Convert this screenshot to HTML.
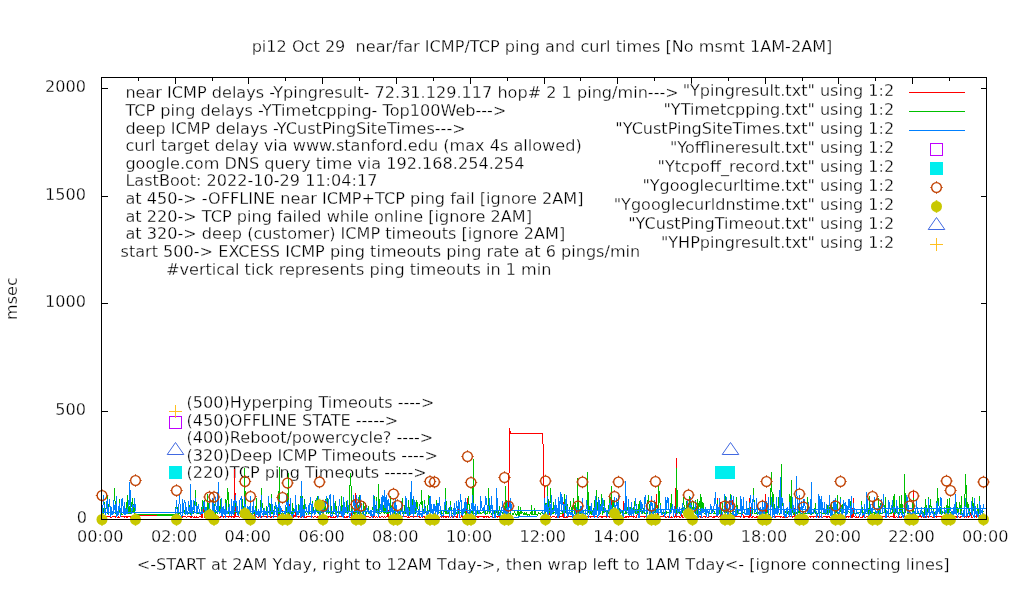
<!DOCTYPE html>
<html lang="en"><head><meta charset="utf-8"><title>pi12 ping and curl times</title>
<style>
html,body{margin:0;padding:0;background:#fff;}
body{width:1020px;height:600px;overflow:hidden;}
svg{display:block;}
text{font-family:"DejaVu Sans","Liberation Sans",sans-serif;font-size:16.1px;fill:#000;white-space:pre;stroke:#fff;stroke-width:0.3px;paint-order:fill stroke;}
.e{text-anchor:end}.m{text-anchor:middle}
.ln{fill:none;stroke-width:1;stroke-linejoin:miter;stroke-linecap:butt}
</style></head><body>
<svg width="1020" height="600" viewBox="0 0 1020 600">
<rect width="1020" height="600" fill="#fff"/>
<path d="M101.5 519.5v-6M101.5 77.5v6M138.5 519.5v-3M138.5 77.5v3M175.5 519.5v-6M175.5 77.5v6M212.5 519.5v-3M212.5 77.5v3M248.5 519.5v-6M248.5 77.5v6M285.5 519.5v-3M285.5 77.5v3M322.5 519.5v-6M322.5 77.5v6M359.5 519.5v-3M359.5 77.5v3M396.5 519.5v-6M396.5 77.5v6M433.5 519.5v-3M433.5 77.5v3M470.5 519.5v-6M470.5 77.5v6M507.5 519.5v-3M507.5 77.5v3M544.5 519.5v-6M544.5 77.5v6M580.5 519.5v-3M580.5 77.5v3M617.5 519.5v-6M617.5 77.5v6M654.5 519.5v-3M654.5 77.5v3M691.5 519.5v-6M691.5 77.5v6M728.5 519.5v-3M728.5 77.5v3M765.5 519.5v-6M765.5 77.5v6M802.5 519.5v-3M802.5 77.5v3M838.5 519.5v-6M838.5 77.5v6M875.5 519.5v-3M875.5 77.5v3M912.5 519.5v-6M912.5 77.5v6M949.5 519.5v-3M949.5 77.5v3M986.5 519.5v-6M986.5 77.5v6M101.5 519.5h6M986.5 519.5h-6M101.5 411.5h6M986.5 411.5h-6M101.5 303.5h6M986.5 303.5h-6M101.5 196.5h6M986.5 196.5h-6M101.5 88.5h6M986.5 88.5h-6" stroke="#000" stroke-width="1" fill="none" shape-rendering="crispEdges"/>
<text class="e" x="87" y="523.3">0</text>
<text class="e" x="86" y="415.3">500</text>
<text class="e" x="86" y="307.3">1000</text>
<text class="e" x="86" y="200.3">1500</text>
<text class="e" x="86" y="92.3">2000</text>
<text class="m" x="100.3" y="541.7">00:00</text>
<text class="m" x="174.1" y="541.7">02:00</text>
<text class="m" x="247.8" y="541.7">04:00</text>
<text class="m" x="321.6" y="541.7">06:00</text>
<text class="m" x="395.3" y="541.7">08:00</text>
<text class="m" x="469.1" y="541.7">10:00</text>
<text class="m" x="542.8" y="541.7">12:00</text>
<text class="m" x="616.5" y="541.7">14:00</text>
<text class="m" x="690.3" y="541.7">16:00</text>
<text class="m" x="764.0" y="541.7">18:00</text>
<text class="m" x="837.8" y="541.7">20:00</text>
<text class="m" x="911.5" y="541.7">22:00</text>
<text class="m" x="985.3" y="541.7">00:00</text>
<text class="m" transform="translate(16.5,298.6) rotate(-90)">msec</text>
<text class="m" x="542" y="51.8">pi12 Oct 29  near/far ICMP/TCP ping and curl times [No msmt 1AM-2AM]</text>
<text class="m" x="543.2" y="570" style="font-size:16.13px">&lt;-START at 2AM Yday, right to 12AM Tday-&gt;, then wrap left to 1AM Tday&lt;- [ignore connecting lines]</text>
<text x="125.4" y="98.2">near ICMP delays -Ypingresult- 72.31.129.117 hop# 2 1 ping/min---&gt;</text>
<text x="125.4" y="115.8">TCP ping delays -YTimetcpping- Top100Web---&gt;</text>
<text x="125.4" y="133.5">deep ICMP delays -YCustPingSiteTimes---&gt;</text>
<text x="125.4" y="151.2">curl target delay via www.stanford.edu (max 4s allowed)</text>
<text x="125.4" y="168.8">google.com DNS query time via 192.168.254.254</text>
<text x="125.4" y="186.4">LastBoot: 2022-10-29 11:04:17</text>
<text x="125.4" y="204.1">at 450-&gt; -OFFLINE near ICMP+TCP ping fail [ignore 2AM]</text>
<text x="125.4" y="221.8">at 220-&gt; TCP ping failed while online [ignore 2AM]</text>
<text x="125.4" y="239.4">at 320-&gt; deep (customer) ICMP timeouts [ignore 2AM]</text>
<text x="120.5" y="257.1">start 500-&gt; EXCESS ICMP ping timeouts ping rate at 6 pings/min</text>
<text x="166" y="274.7">#vertical tick represents ping timeouts in 1 min</text>
<text x="186.6" y="407.8">(500)Hyperping Timeouts ----&gt;</text>
<text x="186.6" y="425.5">(450)OFFLINE STATE -----&gt;</text>
<text x="186.6" y="443.1">(400)Reboot/powercycle? ----&gt;</text>
<text x="186.6" y="460.8">(320)Deep ICMP Timeouts ----&gt;</text>
<text x="186.6" y="478.4">(220)TCP ping Timeouts -----&gt;</text>
<text class="e" x="894.2" y="95.8" style="font-size:16.06px">"Ypingresult.txt" using 1:2</text>
<text class="e" x="894.2" y="114.8" style="font-size:16.06px">"YTimetcpping.txt" using 1:2</text>
<text class="e" x="894.2" y="133.8" style="font-size:16.06px">"YCustPingSiteTimes.txt" using 1:2</text>
<text class="e" x="894.2" y="152.8" style="font-size:16.06px">"Yofflineresult.txt" using 1:2</text>
<text class="e" x="894.2" y="171.8" style="font-size:16.06px">"Ytcpoff_record.txt" using 1:2</text>
<text class="e" x="894.2" y="190.8" style="font-size:16.06px">"Ygooglecurltime.txt" using 1:2</text>
<text class="e" x="894.2" y="209.8" style="font-size:16.06px">"Ygooglecurldnstime.txt" using 1:2</text>
<text class="e" x="894.2" y="228.8" style="font-size:16.06px">"YCustPingTimeout.txt" using 1:2</text>
<text class="e" x="894.2" y="247.8" style="font-size:16.06px">"YHPpingresult.txt" using 1:2</text>
<g>
<path d="M102.5 516V518M103.5 516V517M104.5 516V517M105.5 516V518M106.5 516V517M107.5 516V517M108.5 516V517M109.5 516V517M110.5 516V518M111.5 517V518M112.5 516V517M113.5 516V517M114.5 516V517M115.5 516V518M116.5 516V517M117.5 517V518M118.5 516V518M119.5 517V518M120.5 516V517M121.5 516V517M122.5 516V517M123.5 516V517M124.5 516V518M125.5 516V517M126.5 516V518M127.5 516V518M128.5 516V517M129.5 516V517M130.5 516V518M131.5 516V517M132.5 516V518M133.5 516V517M134.5 516V517M135.5 515V516M135.5 517V518M136.5 515V516M137.5 515V516M138.5 515V516M139.5 515V516M140.5 515V516M141.5 515V516M142.5 515V516M143.5 515V516M144.5 515V516M145.5 515V516M146.5 515V516M147.5 515V516M148.5 515V516M149.5 515V516M150.5 515V516M151.5 515V516M152.5 515V516M153.5 515V516M154.5 515V516M155.5 515V516M156.5 515V516M157.5 515V516M175.5 516V517M176.5 517V518M177.5 516V518M178.5 516V517M179.5 517V518M180.5 516V517M181.5 516V517M182.5 516V518M183.5 516V517M184.5 516V517M185.5 516V517M186.5 517V518M187.5 516V517M188.5 516V517M189.5 516V517M190.5 516V518M191.5 516V518M192.5 516V517M193.5 517V518M194.5 516V518M195.5 517V518M196.5 516V518M197.5 517V518M198.5 517V518M199.5 516V517M200.5 516V517M201.5 514V518M202.5 512V518M203.5 506V512M204.5 511V518M205.5 516V517M206.5 516V517M207.5 516V518M208.5 516V517M209.5 516V518M210.5 517V518M211.5 516V517M212.5 517V518M213.5 514V517M214.5 510V514M215.5 513V517M216.5 516V517M217.5 516V517M218.5 516V517M219.5 517V518M220.5 516V518M221.5 505V517M222.5 511V517M223.5 516V518M224.5 516V517M225.5 516V518M226.5 516V517M227.5 516V517M228.5 516V518M229.5 516V517M230.5 516V517M231.5 516V518M232.5 516V517M233.5 516V518M234.5 469V518M235.5 493V517M236.5 516V517M237.5 516V517M238.5 516V517M239.5 517V518M240.5 516V517M241.5 516V517M242.5 517V518M243.5 516V517M244.5 516V517M245.5 516V518M246.5 514V518M247.5 509V518M248.5 516V517M249.5 516V517M250.5 516V518M251.5 516V517M252.5 516V518M253.5 516V517M254.5 514V517M255.5 510V517M256.5 516V517M257.5 517V518M258.5 516V518M259.5 516V517M260.5 516V517M261.5 516V518M262.5 516V517M263.5 516V517M264.5 516V517M265.5 516V517M266.5 516V518M267.5 517V518M268.5 516V517M269.5 516V517M270.5 517V518M271.5 516V518M272.5 516V517M273.5 517V518M274.5 516V517M275.5 516V517M276.5 516V517M277.5 516V518M278.5 514V518M279.5 510V517M280.5 516V517M281.5 514V517M282.5 510V518M283.5 517V518M284.5 516V517M285.5 516V518M286.5 517V518M287.5 516V518M288.5 492V518M289.5 504V517M290.5 516V517M291.5 516V517M292.5 516V518M293.5 515V518M294.5 515V517M295.5 512V517M296.5 516V517M297.5 516V517M298.5 516V518M299.5 516V517M300.5 516V518M301.5 516V518M302.5 516V517M303.5 516V517M304.5 516V518M305.5 517V518M306.5 516V518M307.5 516V517M308.5 516V517M309.5 516V517M310.5 516V517M311.5 516V517M312.5 516V517M313.5 517V518M314.5 516V517M315.5 516V517M316.5 517V518M317.5 516V518M318.5 516V517M319.5 515V517M320.5 516V517M321.5 516V517M322.5 500V517M323.5 509V518M324.5 515V516M325.5 516V517M326.5 516V517M327.5 516V517M328.5 516V518M329.5 516V517M330.5 516V518M331.5 516V518M332.5 517V518M333.5 516V518M334.5 517V518M335.5 516V518M336.5 516V517M337.5 517V518M338.5 516V517M339.5 516V517M340.5 516V517M341.5 516V517M342.5 516V517M343.5 516V517M344.5 516V518M345.5 517V518M346.5 516V518M347.5 516V518M348.5 516V517M349.5 516V517M350.5 517V518M351.5 512V517M352.5 515V518M353.5 516V517M354.5 505V517M355.5 493V517M356.5 516V517M357.5 516V517M358.5 516V517M359.5 516V518M360.5 517V518M361.5 517V518M362.5 517V518M363.5 516V518M364.5 516V517M365.5 516V518M366.5 516V517M367.5 516V517M368.5 516V517M369.5 517V518M370.5 517V518M371.5 516V517M372.5 516V517M373.5 516V518M374.5 516V517M375.5 517V518M376.5 516V517M377.5 517V518M378.5 516V517M379.5 516V518M380.5 517V518M381.5 516V517M382.5 516V517M383.5 517V518M384.5 516V517M385.5 517V518M386.5 516V517M387.5 502V517M388.5 510V518M389.5 516V517M390.5 517V518M391.5 517V518M392.5 516V517M393.5 516V517M394.5 516V518M395.5 516V517M396.5 516V517M397.5 516V517M398.5 514V517M399.5 515V517M400.5 515V517M401.5 517V518M402.5 516V517M403.5 516V517M404.5 516V517M405.5 516V517M406.5 516V517M407.5 517V518M408.5 516V518M409.5 517V518M410.5 516V517M411.5 516V517M412.5 516V517M413.5 516V518M414.5 516V517M415.5 516V517M416.5 516V517M417.5 516V517M418.5 516V517M419.5 516V518M420.5 517V518M421.5 516V517M422.5 516V518M423.5 516V517M424.5 516V518M425.5 517V518M426.5 516V518M427.5 516V517M428.5 517V518M429.5 516V517M430.5 516V518M431.5 516V517M432.5 516V517M433.5 516V517M434.5 516V517M435.5 517V518M436.5 516V517M437.5 514V517M438.5 516V517M439.5 517V518M440.5 516V517M441.5 516V518M442.5 516V517M443.5 516V518M444.5 516V517M445.5 516V518M446.5 516V518M447.5 516V517M448.5 516V518M449.5 516V517M450.5 517V518M451.5 516V517M452.5 517V518M453.5 516V518M454.5 516V517M455.5 516V517M456.5 516V518M457.5 511V518M458.5 504V511M459.5 510V517M460.5 517V518M461.5 511V517M462.5 514V518M463.5 516V517M464.5 516V517M465.5 516V518M466.5 508V517M467.5 498V517M468.5 516V517M469.5 516V518M470.5 517V518M471.5 516V517M472.5 516V517M473.5 516V518M474.5 516V517M475.5 516V517M476.5 516V517M477.5 516V518M478.5 516V518M479.5 516V517M480.5 516V517M481.5 516V517M482.5 516V517M483.5 516V518M484.5 516V518M485.5 516V517M486.5 516V518M487.5 516V517M488.5 516V518M489.5 517V518M490.5 516V517M491.5 516V517M492.5 516V517M493.5 517V518M494.5 516V518M495.5 516V517M496.5 516V517M497.5 516V518M498.5 516V517M499.5 516V518M500.5 516V518M501.5 516V517M502.5 516V517M503.5 516V517M504.5 516V517M505.5 516V517M506.5 516V517M507.5 516V517M508.5 473V518M509.5 428V473M510.5 431V434M511.5 433V434M512.5 433V434M513.5 433V434M514.5 433V434M515.5 433V434M516.5 433V434M517.5 433V434M518.5 433V434M519.5 433V434M520.5 433V434M521.5 433V434M522.5 433V434M523.5 433V434M524.5 433V434M525.5 433V434M526.5 433V434M527.5 433V434M528.5 433V434M529.5 433V434M530.5 433V434M531.5 433V434M532.5 433V434M533.5 433V434M534.5 433V434M535.5 433V434M536.5 433V434M537.5 433V434M538.5 433V434M539.5 433V434M540.5 433V434M541.5 433V434M542.5 433V444M543.5 444V486M544.5 486V518M545.5 505V517M546.5 516V517M547.5 516V518M548.5 515V518M549.5 512V515M550.5 514V517M551.5 517V518M552.5 516V517M553.5 516V517M554.5 516V517M555.5 517V518M556.5 516V518M557.5 517V518M558.5 516V517M559.5 516V518M560.5 516V517M561.5 516V517M562.5 510V517M563.5 502V518M564.5 516V518M565.5 517V518M566.5 516V518M567.5 516V518M568.5 516V517M569.5 516V517M570.5 516V517M571.5 516V517M572.5 516V517M573.5 516V517M574.5 516V517M575.5 516V518M576.5 508V517M577.5 498V518M578.5 516V517M579.5 516V518M580.5 516V518M581.5 517V518M582.5 516V517M583.5 516V517M584.5 516V517M585.5 516V518M586.5 517V518M587.5 516V517M588.5 516V517M589.5 516V517M590.5 516V518M591.5 516V517M592.5 516V517M593.5 516V517M594.5 516V517M595.5 516V517M596.5 516V517M597.5 516V517M598.5 517V518M599.5 516V517M600.5 516V517M601.5 516V518M602.5 516V518M603.5 516V517M604.5 516V517M605.5 516V517M606.5 516V518M607.5 516V517M608.5 516V517M609.5 516V518M610.5 509V517M611.5 500V509M612.5 508V517M613.5 517V518M614.5 516V517M615.5 516V517M616.5 517V518M617.5 516V518M618.5 516V517M619.5 516V517M620.5 516V518M621.5 516V517M622.5 510V518M623.5 501V518M624.5 517V518M625.5 516V518M626.5 516V518M627.5 516V517M628.5 516V518M629.5 516V517M630.5 516V517M631.5 516V517M632.5 516V517M633.5 516V518M634.5 516V517M635.5 517V518M636.5 515V518M637.5 511V515M638.5 514V518M639.5 516V518M640.5 516V517M641.5 516V517M642.5 516V517M643.5 516V517M644.5 516V518M645.5 516V517M646.5 516V518M647.5 516V517M648.5 517V518M649.5 516V518M650.5 516V518M651.5 517V518M652.5 516V517M653.5 516V517M654.5 516V517M655.5 506V518M656.5 494V506M657.5 505V518M658.5 516V517M659.5 516V517M660.5 516V517M661.5 516V517M662.5 516V517M663.5 515V517M664.5 516V517M665.5 516V518M666.5 517V518M667.5 516V517M668.5 516V518M669.5 516V518M670.5 517V518M671.5 516V518M672.5 517V518M673.5 516V517M674.5 516V518M675.5 488V517M676.5 458V518M677.5 516V517M678.5 516V517M679.5 516V518M680.5 517V518M681.5 513V517M682.5 515V518M683.5 517V518M684.5 516V517M685.5 517V518M686.5 517V518M687.5 516V517M688.5 516V517M689.5 516V517M690.5 517V518M691.5 516V517M692.5 516V518M693.5 516V517M694.5 516V517M695.5 516V517M696.5 516V517M697.5 516V518M698.5 516V517M699.5 516V517M700.5 516V518M701.5 516V517M702.5 517V518M703.5 516V517M704.5 516V517M705.5 516V518M706.5 516V517M707.5 517V518M708.5 516V518M709.5 516V517M710.5 516V517M711.5 516V517M712.5 517V518M713.5 516V518M714.5 516V518M715.5 516V517M716.5 508V517M717.5 498V517M718.5 517V518M719.5 516V517M720.5 502V517M721.5 510V518M722.5 517V518M723.5 517V518M724.5 516V517M725.5 516V517M726.5 517V518M727.5 515V517M728.5 516V518M729.5 516V517M730.5 516V518M731.5 515V518M732.5 500V515M733.5 508V517M734.5 517V518M735.5 516V517M736.5 516V517M737.5 516V517M738.5 516V517M739.5 516V517M740.5 516V518M741.5 515V517M742.5 512V515M743.5 515V518M744.5 516V518M745.5 516V517M746.5 516V517M747.5 516V517M748.5 516V518M749.5 498V518M750.5 507V517M751.5 517V518M752.5 516V518M753.5 516V517M754.5 517V518M755.5 517V518M756.5 516V518M757.5 516V518M758.5 516V517M759.5 516V517M760.5 516V518M761.5 516V517M762.5 516V517M763.5 517V518M764.5 516V517M765.5 494V517M766.5 504V515M767.5 515V518M768.5 516V518M769.5 516V517M770.5 516V518M771.5 517V518M772.5 516V517M773.5 516V517M774.5 517V518M775.5 516V518M776.5 516V517M777.5 516V517M778.5 516V517M779.5 516V517M780.5 516V518M781.5 516V517M782.5 517V518M783.5 516V518M784.5 516V518M785.5 516V517M786.5 516V518M787.5 517V518M788.5 516V517M789.5 515V517M790.5 516V517M791.5 516V517M792.5 516V518M793.5 516V517M794.5 508V517M795.5 511V517M796.5 517V518M797.5 516V517M798.5 516V517M799.5 516V517M800.5 516V518M801.5 517V518M802.5 516V518M803.5 516V517M804.5 516V517M805.5 516V518M806.5 516V517M807.5 516V517M808.5 517V518M809.5 516V517M810.5 516V518M811.5 516V517M812.5 516V517M813.5 516V518M814.5 516V517M815.5 516V517M816.5 516V517M817.5 516V517M818.5 516V518M819.5 516V517M820.5 516V517M821.5 516V517M822.5 517V518M823.5 516V517M824.5 516V517M825.5 516V517M826.5 516V518M827.5 516V518M828.5 516V517M829.5 516V518M830.5 517V518M831.5 516V517M832.5 516V518M833.5 516V517M834.5 516V517M835.5 516V517M836.5 516V517M837.5 516V518M838.5 513V518M839.5 515V517M840.5 516V518M841.5 516V517M842.5 517V518M843.5 516V517M844.5 517V518M845.5 516V518M846.5 516V518M847.5 516V517M848.5 516V518M849.5 516V517M850.5 503V518M851.5 510V518M852.5 508V518M853.5 498V517M854.5 516V517M855.5 517V518M856.5 516V518M857.5 517V518M858.5 516V518M859.5 516V517M860.5 517V518M861.5 517V518M862.5 516V518M863.5 514V517M864.5 511V517M865.5 517V518M866.5 516V517M867.5 516V517M868.5 517V518M869.5 516V518M870.5 516V517M871.5 517V518M872.5 516V517M873.5 516V517M874.5 516V517M875.5 516V518M876.5 516V517M877.5 517V518M878.5 516V518M879.5 517V518M880.5 516V518M881.5 516V517M882.5 516V518M883.5 516V517M884.5 516V517M885.5 516V518M886.5 516V518M887.5 516V517M888.5 516V517M889.5 517V518M890.5 516V517M891.5 516V517M892.5 516V517M893.5 498V518M894.5 508V518M895.5 517V518M896.5 516V517M897.5 517V518M898.5 516V517M899.5 516V518M900.5 517V518M901.5 516V518M902.5 516V517M903.5 516V517M904.5 516V517M905.5 516V518M906.5 516V517M907.5 516V518M908.5 516V517M909.5 516V518M910.5 516V518M911.5 517V518M912.5 505V518M913.5 491V517M914.5 517V518M915.5 517V518M916.5 516V517M917.5 516V517M918.5 516V518M919.5 516V517M920.5 514V517M921.5 516V518M922.5 516V517M923.5 516V518M924.5 516V517M925.5 516V518M926.5 516V518M927.5 516V517M928.5 516V518M929.5 516V517M930.5 516V517M931.5 516V517M932.5 517V518M933.5 517V518M934.5 516V518M935.5 516V517M936.5 516V518M937.5 516V517M938.5 516V517M939.5 516V517M940.5 516V517M941.5 516V518M942.5 516V517M943.5 516V517M944.5 516V517M945.5 516V518M946.5 516V517M947.5 516V517M948.5 516V517M949.5 516V518M950.5 516V517M951.5 516V517M952.5 516V518M953.5 516V517M954.5 516V517M955.5 516V517M956.5 516V518M957.5 517V518M958.5 516V517M959.5 517V518M960.5 516V518M961.5 516V517M962.5 515V517M963.5 513V517M964.5 516V518M965.5 516V517M966.5 517V518M967.5 516V517M968.5 516V518M969.5 513V517M970.5 513V515M971.5 515V518M972.5 517V518M973.5 516V517M974.5 516V517M975.5 516V517M976.5 515V518M977.5 515V517M978.5 513V515M979.5 515V517M980.5 516V518M981.5 516V517M982.5 516V517M983.5 516V517" stroke="#ff0000" stroke-width="1" fill="none" shape-rendering="crispEdges"/>
<path d="M102.5 513V514M103.5 508V514M104.5 502V508M105.5 508V514M106.5 505V509M107.5 495V514M108.5 504V514M109.5 512V513M110.5 512V514M111.5 511V515M112.5 512V514M113.5 501V514M114.5 488V501M115.5 501V514M116.5 512V514M117.5 513V514M118.5 507V515M119.5 499V513M120.5 512V513M121.5 512V515M122.5 514V515M123.5 507V514M124.5 510V514M125.5 512V513M126.5 502V512M127.5 495V507M128.5 507V514M129.5 506V514M130.5 504V514M131.5 502V507M132.5 498V513M133.5 504V512M134.5 508V514M135.5 504V508M135.5 514V515M136.5 514V515M137.5 514V515M138.5 514V515M139.5 514V515M140.5 514V515M141.5 514V515M142.5 514V515M143.5 514V515M144.5 514V515M145.5 514V515M146.5 514V515M147.5 514V515M148.5 514V515M149.5 514V515M150.5 514V515M151.5 514V515M152.5 514V515M153.5 514V515M154.5 514V515M155.5 514V515M156.5 514V515M157.5 514V516M158.5 514V516M159.5 514V516M160.5 514V516M161.5 514V516M162.5 514V516M163.5 514V516M164.5 514V516M165.5 514V516M166.5 514V516M167.5 514V516M168.5 514V516M169.5 514V516M170.5 514V516M171.5 514V516M172.5 514V516M173.5 514V516M174.5 514V516M175.5 507V513M175.5 514V516M176.5 501V507M177.5 507V514M178.5 513V515M179.5 513V514M180.5 513V514M181.5 512V513M182.5 512V513M183.5 506V513M184.5 510V514M185.5 505V514M186.5 511V514M187.5 512V513M188.5 512V514M189.5 505V513M190.5 496V515M191.5 511V514M192.5 513V514M193.5 511V514M194.5 501V513M195.5 490V502M196.5 502V514M197.5 510V514M198.5 512V514M199.5 509V514M200.5 512V513M201.5 507V514M202.5 500V514M203.5 502V509M204.5 500V513M205.5 512V513M206.5 510V512M207.5 494V513M208.5 503V513M209.5 508V513M210.5 509V513M211.5 513V514M212.5 512V514M213.5 500V512M214.5 504V510M215.5 510V514M216.5 512V513M217.5 498V514M218.5 499V506M219.5 506V513M220.5 499V513M221.5 507V512M222.5 512V514M223.5 512V514M224.5 513V514M225.5 499V514M226.5 500V513M227.5 488V500M228.5 492V514M229.5 513V514M230.5 513V514M231.5 511V514M232.5 507V511M233.5 509V515M234.5 507V514M235.5 502V507M236.5 507V513M237.5 511V514M238.5 513V514M239.5 512V514M240.5 512V513M241.5 507V515M242.5 499V514M243.5 506V510M244.5 468V514M245.5 491V514M246.5 512V514M247.5 512V515M248.5 511V514M249.5 508V511M250.5 511V514M251.5 513V514M252.5 512V514M253.5 513V514M254.5 511V514M255.5 506V514M256.5 498V515M257.5 513V514M258.5 512V514M259.5 512V513M260.5 500V514M261.5 488V509M262.5 503V508M263.5 508V514M264.5 511V515M265.5 511V515M266.5 506V514M267.5 513V514M268.5 512V513M269.5 503V514M270.5 504V514M271.5 494V514M272.5 511V514M273.5 510V514M274.5 506V513M275.5 505V509M276.5 509V513M277.5 512V514M278.5 491V514M279.5 467V514M280.5 513V514M281.5 513V514M282.5 513V514M283.5 513V514M284.5 512V514M285.5 509V514M286.5 507V513M287.5 493V513M288.5 473V514M289.5 513V514M290.5 510V513M291.5 512V514M292.5 503V514M293.5 508V513M294.5 509V513M295.5 505V511M296.5 511V514M297.5 513V514M298.5 504V515M299.5 508V513M300.5 496V513M301.5 503V513M302.5 496V505M303.5 505V514M304.5 499V513M305.5 511V513M306.5 513V515M307.5 511V513M308.5 512V514M309.5 511V514M310.5 513V514M311.5 513V514M312.5 501V514M313.5 507V513M314.5 513V515M315.5 500V514M316.5 505V511M317.5 496V513M318.5 505V514M319.5 501V509M320.5 509V514M321.5 511V513M322.5 512V515M323.5 511V514M324.5 505V511M325.5 499V510M326.5 510V514M327.5 498V512M328.5 506V514M329.5 512V513M330.5 510V514M331.5 506V514M332.5 511V513M333.5 512V514M334.5 513V514M335.5 501V514M336.5 506V512M337.5 512V513M338.5 511V513M339.5 512V514M340.5 513V514M341.5 496V514M342.5 505V514M343.5 512V514M344.5 513V514M345.5 512V513M346.5 501V513M347.5 507V514M348.5 511V513M349.5 485V511M350.5 473V486M351.5 486V513M352.5 512V515M353.5 512V514M354.5 513V515M355.5 507V514M356.5 510V513M357.5 512V514M358.5 505V514M359.5 495V513M360.5 512V514M361.5 513V514M362.5 511V514M363.5 501V515M364.5 506V512M365.5 503V514M366.5 512V514M367.5 508V512M368.5 506V514M369.5 513V514M370.5 511V513M371.5 510V513M372.5 507V510M373.5 505V513M374.5 496V514M375.5 505V513M376.5 497V513M377.5 512V513M378.5 484V514M379.5 499V514M380.5 513V514M381.5 497V513M382.5 497V508M383.5 505V513M384.5 498V514M385.5 505V513M386.5 513V514M387.5 511V514M388.5 512V514M389.5 505V513M390.5 496V514M391.5 506V510M392.5 507V512M393.5 510V514M394.5 509V514M395.5 504V515M396.5 513V514M397.5 512V514M398.5 511V515M399.5 512V514M400.5 511V514M401.5 504V511M402.5 498V514M403.5 512V514M404.5 505V512M405.5 498V514M406.5 507V514M407.5 509V514M408.5 500V509M409.5 507V515M410.5 510V514M411.5 507V514M412.5 499V507M413.5 506V513M414.5 511V514M415.5 508V514M416.5 500V508M417.5 502V509M418.5 509V514M419.5 504V513M420.5 502V504M421.5 490V505M422.5 501V513M423.5 509V513M424.5 500V514M425.5 506V513M426.5 513V515M427.5 505V514M428.5 495V505M429.5 496V512M430.5 512V514M431.5 511V513M432.5 511V513M433.5 512V514M434.5 513V514M435.5 506V514M436.5 500V506M437.5 506V512M438.5 512V514M439.5 512V513M440.5 513V515M441.5 511V515M442.5 513V514M443.5 512V514M444.5 511V512M445.5 488V514M446.5 501V514M447.5 513V514M448.5 511V514M449.5 507V513M450.5 501V507M451.5 507V514M452.5 513V514M453.5 513V514M454.5 512V514M455.5 513V514M456.5 512V514M457.5 509V514M458.5 511V514M459.5 513V514M460.5 512V513M461.5 512V513M462.5 512V514M463.5 512V514M464.5 510V513M465.5 506V515M466.5 513V514M467.5 504V514M468.5 496V505M469.5 504V514M470.5 509V514M471.5 511V513M472.5 486V514M473.5 459V514M474.5 513V514M475.5 513V514M476.5 512V513M477.5 511V514M478.5 512V514M479.5 513V514M480.5 512V514M481.5 513V514M482.5 512V513M483.5 510V513M484.5 508V513M485.5 511V515M486.5 513V514M487.5 507V514M488.5 488V507M489.5 501V514M490.5 512V513M491.5 513V515M492.5 512V514M493.5 513V514M494.5 511V514M495.5 513V515M496.5 511V513M497.5 512V515M498.5 511V514M499.5 506V511M500.5 510V514M501.5 512V513M502.5 512V514M503.5 513V514M504.5 506V514M505.5 486V513M506.5 500V514M507.5 511V514M508.5 512V513M509.5 513V514M510.5 512V516M511.5 515V516M512.5 513V515M513.5 513V515M514.5 511V513M515.5 513V515M516.5 514V516M517.5 511V515M518.5 506V516M519.5 512V516M520.5 507V514M521.5 511V514M522.5 512V513M523.5 513V515M524.5 512V515M525.5 513V515M526.5 512V515M527.5 514V516M528.5 514V515M529.5 514V516M530.5 512V514M531.5 505V515M532.5 510V515M533.5 514V515M534.5 508V515M535.5 511V515M536.5 514V515M537.5 514V516M538.5 512V514M539.5 513V514M540.5 513V515M541.5 512V513M542.5 513V514M543.5 513V514M544.5 509V514M545.5 503V514M546.5 503V509M547.5 486V503M548.5 499V513M549.5 501V513M550.5 488V503M551.5 496V512M552.5 508V514M553.5 502V514M554.5 512V513M555.5 513V514M556.5 513V514M557.5 513V514M558.5 510V515M559.5 505V514M560.5 513V514M561.5 513V514M562.5 510V514M563.5 505V513M564.5 494V513M565.5 503V513M566.5 496V514M567.5 504V514M568.5 512V513M569.5 507V514M570.5 501V507M571.5 507V514M572.5 506V514M573.5 498V506M574.5 505V514M575.5 503V514M576.5 513V514M577.5 478V514M578.5 496V515M579.5 512V514M580.5 511V514M581.5 506V513M582.5 499V514M583.5 511V513M584.5 513V514M585.5 512V515M586.5 513V514M587.5 472V513M588.5 492V513M589.5 506V510M590.5 510V514M591.5 510V515M592.5 511V513M593.5 508V515M594.5 500V508M595.5 502V514M596.5 490V513M597.5 502V510M598.5 497V515M599.5 513V514M600.5 504V514M601.5 494V507M602.5 507V515M603.5 507V513M604.5 500V513M605.5 511V512M606.5 512V514M607.5 511V513M608.5 505V514M609.5 495V512M610.5 497V514M611.5 486V500M612.5 500V514M613.5 500V507M614.5 506V512M615.5 509V513M616.5 509V511M617.5 502V513M618.5 503V514M619.5 508V513M620.5 512V514M621.5 511V513M622.5 511V514M623.5 511V514M624.5 513V514M625.5 499V514M626.5 506V514M627.5 507V511M628.5 511V515M629.5 513V514M630.5 507V513M631.5 510V514M632.5 508V511M633.5 507V513M634.5 501V513M635.5 509V514M636.5 504V514M637.5 509V514M638.5 504V513M639.5 501V513M640.5 506V512M641.5 503V513M642.5 511V514M643.5 508V511M644.5 511V514M645.5 513V514M646.5 513V514M647.5 500V514M648.5 495V504M649.5 504V514M650.5 513V514M651.5 511V513M652.5 512V514M653.5 513V514M654.5 512V513M655.5 502V515M656.5 504V508M657.5 508V513M658.5 486V515M659.5 491V503M660.5 503V513M661.5 512V513M662.5 512V515M663.5 512V514M664.5 512V513M665.5 512V514M666.5 511V514M667.5 512V513M668.5 512V513M669.5 513V514M670.5 503V513M671.5 494V513M672.5 507V510M673.5 509V513M674.5 512V513M675.5 512V513M676.5 468V513M677.5 490V513M678.5 512V513M679.5 512V514M680.5 513V514M681.5 512V513M682.5 505V513M683.5 497V505M684.5 505V514M685.5 508V514M686.5 501V508M687.5 507V513M688.5 504V512M689.5 496V514M690.5 497V513M691.5 502V510M692.5 507V514M693.5 501V509M694.5 509V513M695.5 500V514M696.5 506V512M697.5 499V514M698.5 503V512M699.5 501V507M700.5 494V514M701.5 497V513M702.5 502V508M703.5 503V513M704.5 513V514M705.5 512V514M706.5 513V514M707.5 512V513M708.5 513V514M709.5 512V514M710.5 513V514M711.5 507V514M712.5 510V513M713.5 513V514M714.5 511V514M715.5 513V514M716.5 507V515M717.5 500V514M718.5 510V514M719.5 506V514M720.5 512V514M721.5 509V514M722.5 503V511M723.5 510V511M724.5 496V513M725.5 496V514M726.5 504V513M727.5 513V514M728.5 509V514M729.5 500V509M730.5 494V514M731.5 513V514M732.5 513V514M733.5 510V514M734.5 511V512M735.5 511V513M736.5 497V513M737.5 505V513M738.5 512V514M739.5 513V514M740.5 513V514M741.5 513V515M742.5 513V514M743.5 512V513M744.5 512V513M745.5 513V514M746.5 512V514M747.5 510V512M748.5 508V514M749.5 502V512M750.5 512V513M751.5 512V514M752.5 499V514M753.5 488V500M754.5 500V514M755.5 513V514M756.5 512V514M757.5 513V515M758.5 512V513M759.5 512V514M760.5 513V514M761.5 514V515M762.5 513V514M763.5 513V514M764.5 513V514M765.5 512V514M766.5 512V513M767.5 508V513M768.5 502V514M769.5 514V515M770.5 488V515M771.5 472V492M772.5 492V513M773.5 494V513M774.5 504V514M775.5 508V513M776.5 513V514M777.5 506V514M778.5 497V513M779.5 513V515M780.5 483V514M781.5 464V514M782.5 498V506M783.5 506V514M784.5 513V515M785.5 511V513M786.5 511V513M787.5 512V514M788.5 511V513M789.5 494V513M790.5 496V511M791.5 480V514M792.5 499V513M793.5 513V515M794.5 511V514M795.5 512V514M796.5 512V514M797.5 509V514M798.5 511V513M799.5 507V513M800.5 510V514M801.5 513V514M802.5 512V514M803.5 511V514M804.5 513V514M805.5 512V514M806.5 513V514M807.5 497V514M808.5 505V514M809.5 513V514M810.5 506V514M811.5 510V515M812.5 512V514M813.5 511V513M814.5 508V513M815.5 503V514M816.5 512V514M817.5 513V514M818.5 511V514M819.5 512V513M820.5 512V513M821.5 511V515M822.5 513V514M823.5 512V514M824.5 512V514M825.5 513V514M826.5 509V514M827.5 505V514M828.5 510V513M829.5 507V513M830.5 513V514M831.5 502V514M832.5 507V514M833.5 514V515M834.5 505V514M835.5 509V514M836.5 504V513M837.5 495V514M838.5 512V514M839.5 512V514M840.5 497V512M841.5 505V514M842.5 504V513M843.5 507V513M844.5 512V513M845.5 512V514M846.5 511V515M847.5 512V514M848.5 511V512M849.5 512V513M850.5 501V513M851.5 504V514M852.5 512V513M853.5 512V513M854.5 513V514M855.5 513V514M856.5 512V514M857.5 512V513M858.5 512V513M859.5 512V513M860.5 513V514M861.5 501V513M862.5 507V514M863.5 512V513M864.5 513V514M865.5 513V514M866.5 513V514M867.5 503V514M868.5 508V514M869.5 496V513M870.5 504V514M871.5 513V514M872.5 513V514M873.5 512V513M874.5 512V515M875.5 513V514M876.5 513V514M877.5 511V514M878.5 498V514M879.5 506V514M880.5 503V514M881.5 513V514M882.5 513V514M883.5 512V513M884.5 505V513M885.5 497V513M886.5 512V514M887.5 512V513M888.5 512V514M889.5 513V514M890.5 512V514M891.5 512V514M892.5 504V513M893.5 496V513M894.5 494V515M895.5 508V514M896.5 503V513M897.5 512V513M898.5 512V514M899.5 496V513M900.5 504V513M901.5 495V511M902.5 504V515M903.5 512V514M904.5 474V513M905.5 493V513M906.5 503V508M907.5 508V514M908.5 513V514M909.5 512V514M910.5 512V514M911.5 513V514M912.5 502V514M913.5 498V514M914.5 513V514M915.5 511V514M916.5 513V514M917.5 511V514M918.5 512V514M919.5 513V515M920.5 511V514M921.5 510V514M922.5 511V512M923.5 512V514M924.5 507V515M925.5 499V512M926.5 505V512M927.5 508V513M928.5 497V508M929.5 505V515M930.5 499V507M931.5 506V513M932.5 511V513M933.5 508V512M934.5 512V514M935.5 513V514M936.5 501V514M937.5 488V503M938.5 498V506M939.5 506V514M940.5 507V514M941.5 500V515M942.5 511V514M943.5 512V513M944.5 507V514M945.5 510V514M946.5 505V512M947.5 499V515M948.5 506V514M949.5 498V513M950.5 512V514M951.5 513V514M952.5 511V514M953.5 512V514M954.5 511V513M955.5 511V513M956.5 502V512M957.5 507V513M958.5 508V514M959.5 502V508M960.5 505V514M961.5 496V514M962.5 513V514M963.5 512V514M964.5 494V514M965.5 474V494M966.5 485V514M967.5 502V508M968.5 504V514M969.5 508V512M970.5 512V513M971.5 511V513M972.5 497V513M973.5 503V511M974.5 511V514M975.5 513V514M976.5 512V514M977.5 504V514M978.5 509V514M979.5 496V514M980.5 505V514M981.5 512V513M982.5 512V514M983.5 511V512" stroke="#00c000" stroke-width="1" fill="none" shape-rendering="crispEdges"/>
<path d="M102.5 505V513M103.5 495V505M103.5 512V513M104.5 504V513M105.5 509V515M106.5 501V509M106.5 512V513M107.5 499V513M108.5 507V515M109.5 499V507M109.5 512V513M110.5 506V517M111.5 507V515M112.5 511V515M113.5 500V514M114.5 505V510M114.5 512V513M115.5 504V513M116.5 496V517M117.5 511V516M118.5 506V515M119.5 503V510M119.5 512V513M120.5 508V517M121.5 499V513M122.5 498V506M122.5 512V513M123.5 506V514M124.5 502V515M125.5 508V515M126.5 509V514M127.5 507V514M128.5 500V507M128.5 512V513M129.5 482V505M129.5 512V513M130.5 490V508M130.5 512V513M131.5 508V514M132.5 504V511M132.5 512V513M133.5 505V507M133.5 512V513M134.5 498V508M134.5 512V513M135.5 504V511M135.5 512V513M136.5 512V513M137.5 512V513M138.5 512V513M139.5 512V513M140.5 512V513M141.5 512V513M142.5 512V513M143.5 512V513M144.5 512V513M145.5 512V513M146.5 512V513M147.5 512V513M148.5 512V513M149.5 512V513M150.5 512V513M151.5 512V513M152.5 512V513M153.5 512V513M154.5 512V513M155.5 512V513M156.5 512V513M157.5 512V513M158.5 512V513M159.5 512V513M160.5 512V513M161.5 512V513M162.5 512V513M163.5 512V513M164.5 512V513M165.5 512V513M166.5 512V513M167.5 512V513M168.5 512V513M169.5 512V513M170.5 512V513M171.5 512V513M172.5 512V513M173.5 512V513M174.5 512V513M175.5 508V516M176.5 500V509M176.5 512V513M177.5 509V518M178.5 504V513M179.5 495V504M179.5 512V513M180.5 504V515M181.5 512V513M181.5 515V518M182.5 499V516M183.5 503V513M184.5 500V503M184.5 512V513M185.5 502V515M186.5 507V514M187.5 511V515M188.5 501V511M188.5 512V513M189.5 507V514M190.5 484V513M191.5 500V516M192.5 507V514M193.5 500V510M193.5 512V513M194.5 505V513M195.5 498V506M195.5 512V513M196.5 506V514M197.5 506V513M198.5 504V509M198.5 512V513M199.5 509V514M200.5 512V515M201.5 511V514M202.5 506V514M203.5 501V506M203.5 512V513M204.5 502V510M204.5 512V513M205.5 507V514M206.5 507V511M206.5 512V513M207.5 510V514M208.5 509V517M209.5 500V516M210.5 512V513M210.5 516V518M211.5 512V516M212.5 498V513M213.5 503V513M214.5 506V514M215.5 497V506M215.5 511V512M216.5 506V510M216.5 511V512M217.5 492V513M218.5 482V512M219.5 511V514M220.5 509V513M221.5 498V516M222.5 507V517M223.5 506V514M224.5 509V515M225.5 503V518M226.5 510V514M227.5 511V514M228.5 507V512M229.5 504V516M230.5 511V514M231.5 499V516M232.5 506V514M233.5 501V515M234.5 500V510M234.5 511V512M235.5 495V503M235.5 511V512M236.5 501V512M237.5 506V515M238.5 511V516M239.5 500V512M240.5 498V500M240.5 511V512M241.5 496V515M242.5 507V517M243.5 511V516M244.5 496V512M245.5 504V512M246.5 511V516M247.5 506V513M248.5 507V514M249.5 506V515M250.5 496V518M251.5 511V512M251.5 514V516M252.5 506V516M253.5 499V513M254.5 510V512M255.5 508V518M256.5 511V515M257.5 511V515M258.5 509V517M259.5 511V516M260.5 507V518M261.5 495V513M262.5 511V512M262.5 513V515M263.5 510V517M264.5 508V515M265.5 511V514M266.5 511V515M267.5 507V518M268.5 496V507M268.5 511V512M269.5 505V515M270.5 511V517M271.5 498V512M272.5 504V512M273.5 511V518M274.5 508V515M275.5 502V508M275.5 511V512M276.5 505V515M277.5 507V518M278.5 504V508M278.5 511V512M279.5 499V512M280.5 506V514M281.5 508V512M282.5 511V515M283.5 511V512M283.5 514V516M284.5 511V514M285.5 505V515M286.5 495V505M286.5 511V512M287.5 502V515M288.5 500V512M289.5 506V513M290.5 498V514M291.5 511V512M291.5 514V517M292.5 511V512M292.5 514V518M293.5 511V515M294.5 509V512M295.5 495V512M296.5 505V517M297.5 511V515M298.5 510V515M299.5 505V512M300.5 498V518M301.5 481V517M302.5 498V516M303.5 509V518M304.5 509V516M305.5 504V509M305.5 511V512M306.5 507V512M307.5 511V513M308.5 505V515M309.5 503V512M310.5 497V505M310.5 511V512M311.5 504V518M312.5 503V514M313.5 511V513M314.5 510V515M315.5 505V514M316.5 498V505M316.5 511V512M317.5 503V509M317.5 511V512M318.5 496V506M318.5 511V512M319.5 499V516M320.5 505V517M321.5 511V512M321.5 516V518M322.5 501V516M323.5 506V513M324.5 501V507M324.5 511V512M325.5 500V506M325.5 511V512M326.5 496V504M326.5 511V512M327.5 504V513M328.5 499V510M328.5 511V512M329.5 495V499M329.5 511V512M330.5 494V516M331.5 511V512M331.5 515V517M332.5 511V516M333.5 495V512M334.5 503V512M335.5 509V515M336.5 511V516M337.5 511V512M337.5 515V518M338.5 506V517M339.5 499V506M339.5 511V512M340.5 506V514M341.5 511V516M342.5 507V517M343.5 497V518M344.5 502V515M345.5 507V512M346.5 507V513M347.5 500V507M347.5 511V512M348.5 505V513M349.5 511V512M349.5 513V518M350.5 511V512M350.5 513V516M351.5 511V513M352.5 506V516M353.5 495V506M353.5 511V512M354.5 499V510M354.5 511V512M355.5 503V510M355.5 511V512M356.5 495V505M356.5 511V512M357.5 502V516M358.5 497V503M358.5 511V512M359.5 503V516M360.5 495V506M360.5 511V512M361.5 503V512M362.5 511V514M363.5 511V512M363.5 514V518M364.5 511V512M364.5 514V516M365.5 510V517M366.5 505V510M366.5 511V512M367.5 508V512M368.5 510V513M369.5 511V514M370.5 510V516M371.5 510V516M372.5 511V512M372.5 514V518M373.5 495V516M374.5 499V516M375.5 506V513M376.5 501V509M376.5 511V512M377.5 509V514M378.5 511V512M378.5 513V517M379.5 508V513M380.5 504V510M380.5 511V512M381.5 497V512M382.5 495V512M383.5 496V502M383.5 511V512M384.5 490V508M384.5 511V512M385.5 497V508M385.5 511V512M386.5 495V513M387.5 500V512M388.5 499V506M388.5 511V512M389.5 503V512M390.5 508V517M391.5 507V512M392.5 502V515M393.5 510V514M394.5 502V510M394.5 511V512M395.5 499V516M396.5 505V512M397.5 511V515M398.5 511V516M399.5 511V512M399.5 516V518M400.5 508V516M401.5 501V508M401.5 511V512M402.5 506V513M403.5 511V512M403.5 513V517M404.5 511V514M405.5 496V512M406.5 498V514M407.5 507V516M408.5 508V516M409.5 511V512M409.5 515V516M410.5 492V515M411.5 481V514M412.5 505V514M413.5 496V517M414.5 500V514M415.5 502V508M415.5 511V512M416.5 507V513M417.5 511V512M417.5 513V517M418.5 510V515M419.5 506V516M420.5 511V512M420.5 513V515M421.5 511V512M421.5 513V517M422.5 508V517M423.5 511V514M424.5 504V514M425.5 508V512M426.5 511V515M427.5 511V515M428.5 510V514M429.5 498V510M429.5 511V512M430.5 496V516M431.5 504V513M432.5 509V514M433.5 504V518M434.5 504V511M435.5 506V518M436.5 505V512M437.5 503V518M438.5 503V514M439.5 497V506M439.5 510V511M440.5 506V515M441.5 510V511M441.5 514V517M442.5 510V511M442.5 515V516M443.5 510V516M444.5 502V511M445.5 499V505M445.5 510V511M446.5 505V511M447.5 510V513M448.5 508V512M449.5 510V517M450.5 505V511M451.5 510V516M452.5 510V511M452.5 515V518M453.5 508V515M454.5 503V517M455.5 508V515M456.5 501V508M456.5 510V511M457.5 506V514M458.5 500V509M458.5 510V511M459.5 502V518M460.5 494V502M460.5 510V511M461.5 500V515M462.5 509V516M463.5 508V514M464.5 502V512M465.5 498V511M466.5 502V509M466.5 510V511M467.5 509V515M468.5 510V511M468.5 512V514M469.5 510V516M470.5 509V515M471.5 503V509M471.5 510V511M472.5 495V511M473.5 503V515M474.5 506V511M475.5 504V517M476.5 510V515M477.5 506V511M478.5 510V513M479.5 510V514M480.5 496V511M481.5 501V508M481.5 510V511M482.5 508V511M483.5 507V511M484.5 505V514M485.5 496V505M485.5 510V511M486.5 498V505M486.5 510V511M487.5 505V511M488.5 506V512M489.5 498V506M489.5 510V511M490.5 505V513M491.5 496V509M491.5 510V511M492.5 505V518M493.5 510V514M494.5 510V511M494.5 514V518M495.5 510V518M496.5 488V511M497.5 498V514M498.5 510V511M498.5 514V516M499.5 510V511M499.5 512V516M500.5 510V511M500.5 512V517M501.5 507V513M502.5 501V508M502.5 510V511M503.5 508V514M504.5 510V513M505.5 510V514M506.5 508V515M507.5 501V518M508.5 507V515M509.5 501V508M509.5 510V511M510.5 498V513M511.5 504V511M512.5 510V511M513.5 510V511M514.5 510V511M514.5 517V518M515.5 510V511M515.5 517V518M516.5 510V511M516.5 517V518M517.5 510V511M517.5 517V518M518.5 510V511M518.5 516V518M519.5 510V511M519.5 516V517M520.5 510V511M520.5 516V517M521.5 510V511M521.5 516V517M522.5 510V511M522.5 516V517M523.5 510V511M523.5 516V517M524.5 510V511M524.5 516V517M525.5 510V511M525.5 516V517M526.5 510V511M526.5 516V517M527.5 510V511M527.5 516V517M528.5 510V511M528.5 516V517M529.5 510V511M529.5 516V517M530.5 510V511M530.5 516V517M531.5 510V511M531.5 516V517M532.5 510V511M532.5 516V517M533.5 510V511M533.5 516V517M534.5 510V511M534.5 516V517M535.5 510V511M535.5 516V517M536.5 510V511M536.5 516V517M537.5 510V511M538.5 510V511M539.5 510V511M540.5 510V511M541.5 510V511M542.5 510V513M543.5 510V511M543.5 513V515M544.5 498V514M545.5 505V512M546.5 504V512M547.5 496V516M548.5 507V517M549.5 501V508M549.5 510V511M550.5 504V516M551.5 495V515M552.5 510V513M553.5 509V512M554.5 505V511M555.5 499V515M556.5 505V514M557.5 508V518M558.5 497V518M559.5 501V516M560.5 492V504M560.5 510V511M561.5 494V512M562.5 497V505M562.5 510V511M563.5 504V513M564.5 504V517M565.5 499V506M565.5 510V511M566.5 495V514M567.5 506V517M568.5 510V511M568.5 512V516M569.5 509V514M570.5 510V511M570.5 512V515M571.5 510V511M571.5 512V515M572.5 510V511M572.5 512V518M573.5 510V511M573.5 514V516M574.5 510V511M574.5 515V518M575.5 510V515M576.5 507V511M577.5 509V514M578.5 510V511M578.5 514V518M579.5 509V514M580.5 506V513M581.5 506V514M582.5 498V516M583.5 510V511M583.5 512V515M584.5 510V511M584.5 513V514M585.5 509V517M586.5 500V509M586.5 510V511M587.5 505V515M588.5 510V511M588.5 515V518M589.5 510V515M590.5 506V511M591.5 503V512M592.5 510V511M592.5 512V515M593.5 510V516M594.5 507V518M595.5 496V515M596.5 500V515M597.5 510V511M597.5 515V518M598.5 498V516M599.5 500V515M600.5 506V513M601.5 504V511M602.5 498V511M603.5 500V506M603.5 510V511M604.5 506V513M605.5 508V511M606.5 510V516M607.5 510V511M607.5 512V517M608.5 509V512M609.5 503V514M610.5 500V514M611.5 505V511M612.5 508V513M613.5 510V511M613.5 512V513M614.5 497V514M615.5 505V515M616.5 498V506M616.5 510V511M617.5 503V514M618.5 495V516M619.5 510V514M620.5 509V512M621.5 510V513M622.5 510V511M622.5 513V518M623.5 510V518M624.5 503V511M625.5 481V511M626.5 496V512M627.5 510V511M627.5 512V513M628.5 499V514M629.5 507V516M630.5 509V515M631.5 502V516M632.5 508V514M633.5 510V516M634.5 506V513M635.5 498V506M635.5 510V511M636.5 505V513M637.5 510V511M637.5 513V514M638.5 510V511M638.5 513V518M639.5 509V518M640.5 500V509M640.5 510V511M641.5 502V514M642.5 504V509M642.5 510V511M643.5 509V513M644.5 497V512M645.5 495V504M645.5 510V511M646.5 504V518M647.5 503V512M648.5 510V511M649.5 509V515M650.5 502V515M651.5 496V506M651.5 510V511M652.5 503V514M653.5 508V516M654.5 500V512M655.5 509V510M655.5 512V516M656.5 509V513M657.5 509V513M658.5 508V514M659.5 509V510M659.5 512V513M660.5 505V513M661.5 509V515M662.5 509V510M662.5 513V515M663.5 509V513M664.5 509V510M664.5 513V517M665.5 497V515M666.5 500V510M667.5 497V503M667.5 509V510M668.5 498V510M669.5 509V518M670.5 509V510M670.5 512V514M671.5 507V513M672.5 504V510M673.5 509V517M674.5 506V513M675.5 509V514M676.5 509V510M676.5 514V516M677.5 507V514M678.5 509V512M679.5 507V512M680.5 509V510M680.5 511V516M681.5 508V514M682.5 503V508M682.5 509V510M683.5 507V511M684.5 508V512M685.5 509V510M685.5 512V516M686.5 508V516M687.5 500V513M688.5 509V514M689.5 505V515M690.5 497V507M690.5 509V510M691.5 505V514M692.5 509V510M692.5 513V516M693.5 509V510M693.5 513V518M694.5 507V513M695.5 501V508M695.5 509V510M696.5 508V515M697.5 509V510M697.5 514V517M698.5 509V518M699.5 509V510M699.5 511V515M700.5 509V510M700.5 511V515M701.5 508V518M702.5 508V513M703.5 509V513M704.5 509V512M705.5 507V515M706.5 509V517M707.5 509V513M708.5 509V510M708.5 511V517M709.5 509V513M710.5 504V510M711.5 506V514M712.5 509V510M712.5 511V513M713.5 506V512M714.5 498V506M714.5 509V510M715.5 492V504M715.5 509V510M716.5 504V516M717.5 504V516M718.5 507V515M719.5 498V510M720.5 509V515M721.5 509V510M721.5 515V518M722.5 509V510M722.5 512V515M723.5 509V512M724.5 494V510M725.5 504V518M726.5 497V508M726.5 509V510M727.5 504V515M728.5 509V517M729.5 500V510M730.5 499V510M731.5 495V505M731.5 509V510M732.5 505V516M733.5 496V515M734.5 509V510M734.5 514V518M735.5 509V516M736.5 507V516M737.5 509V510M737.5 513V515M738.5 509V513M739.5 509V511M740.5 496V511M741.5 499V517M742.5 506V514M743.5 497V510M744.5 509V514M745.5 509V510M745.5 513V515M746.5 501V515M747.5 508V515M748.5 509V515M749.5 503V515M750.5 495V503M750.5 509V510M751.5 503V516M752.5 499V508M752.5 509V510M753.5 495V502M753.5 509V510M754.5 502V513M755.5 509V512M756.5 498V510M757.5 504V514M758.5 509V510M758.5 513V514M759.5 508V515M760.5 507V516M761.5 509V510M761.5 511V516M762.5 501V516M763.5 507V514M764.5 502V514M765.5 501V510M766.5 501V505M766.5 509V510M767.5 503V510M768.5 497V518M769.5 509V510M769.5 516V517M770.5 505V516M771.5 497V507M771.5 509V510M772.5 507V518M773.5 502V515M774.5 509V518M775.5 508V514M776.5 497V514M777.5 506V515M778.5 508V513M779.5 490V508M779.5 509V510M780.5 477V514M781.5 497V514M782.5 498V503M782.5 509V510M783.5 503V515M784.5 509V517M785.5 509V510M785.5 514V518M786.5 508V517M787.5 507V512M788.5 509V510M788.5 512V515M789.5 502V517M790.5 508V515M791.5 509V517M792.5 497V510M793.5 505V513M794.5 509V512M795.5 496V516M796.5 476V496M796.5 509V510M797.5 496V517M798.5 503V511M799.5 495V507M799.5 509V510M800.5 507V518M801.5 501V510M802.5 506V517M803.5 499V508M803.5 509V510M804.5 499V506M804.5 509V510M805.5 506V513M806.5 509V511M807.5 509V510M807.5 511V514M808.5 502V513M809.5 507V513M810.5 499V515M811.5 482V514M812.5 509V510M812.5 512V513M813.5 509V514M814.5 509V510M814.5 512V513M815.5 509V512M816.5 509V510M816.5 511V518M817.5 509V510M817.5 514V516M818.5 494V514M819.5 496V518M820.5 499V510M821.5 496V518M822.5 502V510M823.5 508V513M824.5 502V513M825.5 509V515M826.5 504V513M827.5 509V510M827.5 513V515M828.5 505V515M829.5 495V506M829.5 509V510M830.5 506V516M831.5 509V516M832.5 509V517M833.5 500V510M834.5 500V517M835.5 498V510M836.5 504V511M837.5 509V513M838.5 509V510M838.5 512V514M839.5 508V514M840.5 499V508M840.5 509V510M841.5 507V515M842.5 509V515M843.5 500V513M844.5 503V506M844.5 509V510M845.5 502V518M846.5 505V515M847.5 506V514M848.5 499V510M849.5 499V508M849.5 509V510M850.5 506V518M851.5 496V515M852.5 509V514M853.5 503V510M854.5 508V513M855.5 509V510M855.5 513V516M856.5 509V513M857.5 509V510M857.5 512V514M858.5 509V510M858.5 512V514M859.5 509V510M859.5 514V517M860.5 509V515M861.5 505V513M862.5 509V510M862.5 513V516M863.5 509V510M863.5 513V515M864.5 504V518M865.5 509V514M866.5 492V512M867.5 499V514M868.5 509V510M868.5 514V518M869.5 509V510M869.5 511V515M870.5 504V511M871.5 508V513M872.5 507V515M873.5 501V507M873.5 509V510M874.5 497V510M875.5 508V509M875.5 510V513M876.5 508V509M876.5 511V514M877.5 508V509M877.5 510V517M878.5 507V511M879.5 508V509M879.5 511V516M880.5 505V513M881.5 499V506M881.5 508V509M882.5 504V514M883.5 494V507M883.5 508V509M884.5 507V513M885.5 508V509M885.5 513V518M886.5 508V509M886.5 510V518M887.5 508V509M887.5 511V514M888.5 500V516M889.5 502V509M890.5 508V513M891.5 505V510M892.5 500V506M892.5 508V509M893.5 506V513M894.5 507V512M895.5 508V509M895.5 512V514M896.5 500V512M897.5 506V514M898.5 508V509M898.5 514V518M899.5 508V509M899.5 511V515M900.5 508V509M900.5 510V512M901.5 508V509M901.5 510V515M902.5 508V509M902.5 513V517M903.5 508V509M903.5 515V518M904.5 507V516M905.5 502V509M906.5 495V504M906.5 508V509M907.5 497V513M908.5 505V513M909.5 508V509M909.5 512V517M910.5 508V509M910.5 512V516M911.5 508V509M911.5 513V515M912.5 508V509M912.5 512V514M913.5 508V509M913.5 512V516M914.5 508V509M914.5 511V514M915.5 508V517M916.5 500V509M917.5 507V514M918.5 508V509M918.5 511V513M919.5 508V509M919.5 513V516M920.5 508V509M920.5 510V515M921.5 507V513M922.5 508V509M922.5 512V517M923.5 508V509M923.5 513V517M924.5 508V509M924.5 515V518M925.5 507V515M926.5 508V518M927.5 508V509M927.5 512V515M928.5 499V513M929.5 508V517M930.5 508V509M930.5 512V515M931.5 508V509M931.5 510V513M932.5 508V509M932.5 511V514M933.5 508V509M933.5 511V517M934.5 508V509M934.5 514V518M935.5 508V509M935.5 511V515M936.5 503V516M937.5 501V514M938.5 508V512M939.5 506V514M940.5 497V506M940.5 508V509M941.5 498V514M942.5 508V509M942.5 513V514M943.5 508V509M943.5 512V513M944.5 508V512M945.5 508V509M945.5 510V516M946.5 508V513M947.5 508V509M947.5 513V518M948.5 508V509M948.5 513V515M949.5 508V509M949.5 510V513M950.5 507V511M951.5 508V509M951.5 511V515M952.5 508V509M952.5 511V518M953.5 507V515M954.5 504V514M955.5 494V514M956.5 508V509M956.5 510V515M957.5 508V509M957.5 515V518M958.5 508V509M958.5 512V515M959.5 508V509M959.5 513V514M960.5 508V509M960.5 514V515M961.5 508V509M961.5 511V515M962.5 508V509M962.5 514V517M963.5 508V509M963.5 510V517M964.5 506V517M965.5 498V507M965.5 508V509M966.5 507V517M967.5 508V509M967.5 513V516M968.5 508V513M969.5 508V509M969.5 511V516M970.5 508V509M970.5 515V516M971.5 501V515M972.5 506V515M973.5 508V509M973.5 515V517M974.5 498V518M975.5 506V514M976.5 508V509M976.5 511V515M977.5 508V509M977.5 511V517M978.5 508V509M978.5 514V518M979.5 501V514M980.5 505V515M981.5 508V509M981.5 510V513M982.5 508V515M983.5 504V509M984.5 508V509M985.5 508V509" stroke="#0080ff" stroke-width="1" fill="none" shape-rendering="crispEdges"/>
</g>
<path d="M908.5 92.5H965" stroke="#ff0000" stroke-width="1" fill="none" shape-rendering="crispEdges"/>
<path d="M908.5 111.5H965" stroke="#00c000" stroke-width="1" fill="none" shape-rendering="crispEdges"/>
<path d="M908.5 130.5H965" stroke="#0080ff" stroke-width="1" fill="none" shape-rendering="crispEdges"/>
<rect x="169.5" y="416.5" width="12" height="12" fill="none" stroke="#c000ff" stroke-width="1"/>
<rect x="930.5" y="143.5" width="12" height="12" fill="none" stroke="#c000ff" stroke-width="1"/>
<rect x="169.0" y="466.0" width="13" height="13" fill="#00eeee"/>
<rect x="715.0" y="466.0" width="13" height="13" fill="#00eeee"/>
<rect x="722.0" y="466.0" width="13" height="13" fill="#00eeee"/>
<rect x="930.0" y="162.0" width="13" height="13" fill="#00eeee"/>
<circle cx="102.0" cy="495.5" r="4.85" fill="none" stroke="#c04000" stroke-width="1.35"/><path d="M95.8 495.5h1.3M106.9 495.5h1.3M102.0 489.3v1.3M102.0 500.4v1.3" stroke="#c04000" stroke-width="1.1" fill="none"/>
<circle cx="135.5" cy="480.5" r="4.85" fill="none" stroke="#c04000" stroke-width="1.35"/><path d="M129.3 480.5h1.3M140.4 480.5h1.3M135.5 474.3v1.3M135.5 485.4v1.3" stroke="#c04000" stroke-width="1.1" fill="none"/>
<circle cx="176.5" cy="490.5" r="4.85" fill="none" stroke="#c04000" stroke-width="1.35"/><path d="M170.3 490.5h1.3M181.4 490.5h1.3M176.5 484.3v1.3M176.5 495.4v1.3" stroke="#c04000" stroke-width="1.1" fill="none"/>
<circle cx="209.5" cy="497.0" r="4.85" fill="none" stroke="#c04000" stroke-width="1.35"/><path d="M203.3 497.0h1.3M214.4 497.0h1.3M209.5 490.8v1.3M209.5 501.9v1.3" stroke="#c04000" stroke-width="1.1" fill="none"/>
<circle cx="214.0" cy="497.0" r="4.85" fill="none" stroke="#c04000" stroke-width="1.35"/><path d="M207.8 497.0h1.3M218.9 497.0h1.3M214.0 490.8v1.3M214.0 501.9v1.3" stroke="#c04000" stroke-width="1.1" fill="none"/>
<circle cx="245.0" cy="481.5" r="4.85" fill="none" stroke="#c04000" stroke-width="1.35"/><path d="M238.8 481.5h1.3M249.9 481.5h1.3M245.0 475.3v1.3M245.0 486.4v1.3" stroke="#c04000" stroke-width="1.1" fill="none"/>
<circle cx="250.5" cy="496.5" r="4.85" fill="none" stroke="#c04000" stroke-width="1.35"/><path d="M244.3 496.5h1.3M255.4 496.5h1.3M250.5 490.3v1.3M250.5 501.4v1.3" stroke="#c04000" stroke-width="1.1" fill="none"/>
<circle cx="282.5" cy="497.5" r="4.85" fill="none" stroke="#c04000" stroke-width="1.35"/><path d="M276.3 497.5h1.3M287.4 497.5h1.3M282.5 491.3v1.3M282.5 502.4v1.3" stroke="#c04000" stroke-width="1.1" fill="none"/>
<circle cx="287.5" cy="483.0" r="4.85" fill="none" stroke="#c04000" stroke-width="1.35"/><path d="M281.3 483.0h1.3M292.4 483.0h1.3M287.5 476.8v1.3M287.5 487.9v1.3" stroke="#c04000" stroke-width="1.1" fill="none"/>
<circle cx="319.5" cy="482.0" r="4.85" fill="none" stroke="#c04000" stroke-width="1.35"/><path d="M313.3 482.0h1.3M324.4 482.0h1.3M319.5 475.8v1.3M319.5 486.9v1.3" stroke="#c04000" stroke-width="1.1" fill="none"/>
<circle cx="323.0" cy="506.0" r="4.85" fill="none" stroke="#c04000" stroke-width="1.35"/><path d="M316.8 506.0h1.3M327.9 506.0h1.3M323.0 499.8v1.3M323.0 510.9v1.3" stroke="#c04000" stroke-width="1.1" fill="none"/>
<circle cx="356.0" cy="504.5" r="4.85" fill="none" stroke="#c04000" stroke-width="1.35"/><path d="M349.8 504.5h1.3M360.9 504.5h1.3M356.0 498.3v1.3M356.0 509.4v1.3" stroke="#c04000" stroke-width="1.1" fill="none"/>
<circle cx="361.0" cy="506.0" r="4.85" fill="none" stroke="#c04000" stroke-width="1.35"/><path d="M354.8 506.0h1.3M365.9 506.0h1.3M361.0 499.8v1.3M361.0 510.9v1.3" stroke="#c04000" stroke-width="1.1" fill="none"/>
<circle cx="393.5" cy="494.0" r="4.85" fill="none" stroke="#c04000" stroke-width="1.35"/><path d="M387.3 494.0h1.3M398.4 494.0h1.3M393.5 487.8v1.3M393.5 498.9v1.3" stroke="#c04000" stroke-width="1.1" fill="none"/>
<circle cx="397.5" cy="505.5" r="4.85" fill="none" stroke="#c04000" stroke-width="1.35"/><path d="M391.3 505.5h1.3M402.4 505.5h1.3M397.5 499.3v1.3M397.5 510.4v1.3" stroke="#c04000" stroke-width="1.1" fill="none"/>
<circle cx="430.0" cy="481.5" r="4.85" fill="none" stroke="#c04000" stroke-width="1.35"/><path d="M423.8 481.5h1.3M434.9 481.5h1.3M430.0 475.3v1.3M430.0 486.4v1.3" stroke="#c04000" stroke-width="1.1" fill="none"/>
<circle cx="434.5" cy="482.0" r="4.85" fill="none" stroke="#c04000" stroke-width="1.35"/><path d="M428.3 482.0h1.3M439.4 482.0h1.3M434.5 475.8v1.3M434.5 486.9v1.3" stroke="#c04000" stroke-width="1.1" fill="none"/>
<circle cx="467.5" cy="456.5" r="4.85" fill="none" stroke="#c04000" stroke-width="1.35"/><path d="M461.3 456.5h1.3M472.4 456.5h1.3M467.5 450.3v1.3M467.5 461.4v1.3" stroke="#c04000" stroke-width="1.1" fill="none"/>
<circle cx="471.0" cy="482.5" r="4.85" fill="none" stroke="#c04000" stroke-width="1.35"/><path d="M464.8 482.5h1.3M475.9 482.5h1.3M471.0 476.3v1.3M471.0 487.4v1.3" stroke="#c04000" stroke-width="1.1" fill="none"/>
<circle cx="504.5" cy="477.5" r="4.85" fill="none" stroke="#c04000" stroke-width="1.35"/><path d="M498.3 477.5h1.3M509.4 477.5h1.3M504.5 471.3v1.3M504.5 482.4v1.3" stroke="#c04000" stroke-width="1.1" fill="none"/>
<circle cx="508.5" cy="506.0" r="4.85" fill="none" stroke="#c04000" stroke-width="1.35"/><path d="M502.3 506.0h1.3M513.4 506.0h1.3M508.5 499.8v1.3M508.5 510.9v1.3" stroke="#c04000" stroke-width="1.1" fill="none"/>
<circle cx="545.5" cy="481.0" r="4.85" fill="none" stroke="#c04000" stroke-width="1.35"/><path d="M539.3 481.0h1.3M550.4 481.0h1.3M545.5 474.8v1.3M545.5 485.9v1.3" stroke="#c04000" stroke-width="1.1" fill="none"/>
<circle cx="582.5" cy="482.0" r="4.85" fill="none" stroke="#c04000" stroke-width="1.35"/><path d="M576.3 482.0h1.3M587.4 482.0h1.3M582.5 475.8v1.3M582.5 486.9v1.3" stroke="#c04000" stroke-width="1.1" fill="none"/>
<circle cx="578.0" cy="506.0" r="4.85" fill="none" stroke="#c04000" stroke-width="1.35"/><path d="M571.8 506.0h1.3M582.9 506.0h1.3M578.0 499.8v1.3M578.0 510.9v1.3" stroke="#c04000" stroke-width="1.1" fill="none"/>
<circle cx="618.5" cy="482.0" r="4.85" fill="none" stroke="#c04000" stroke-width="1.35"/><path d="M612.3 482.0h1.3M623.4 482.0h1.3M618.5 475.8v1.3M618.5 486.9v1.3" stroke="#c04000" stroke-width="1.1" fill="none"/>
<circle cx="614.5" cy="496.5" r="4.85" fill="none" stroke="#c04000" stroke-width="1.35"/><path d="M608.3 496.5h1.3M619.4 496.5h1.3M614.5 490.3v1.3M614.5 501.4v1.3" stroke="#c04000" stroke-width="1.1" fill="none"/>
<circle cx="655.5" cy="481.5" r="4.85" fill="none" stroke="#c04000" stroke-width="1.35"/><path d="M649.3 481.5h1.3M660.4 481.5h1.3M655.5 475.3v1.3M655.5 486.4v1.3" stroke="#c04000" stroke-width="1.1" fill="none"/>
<circle cx="651.5" cy="506.0" r="4.85" fill="none" stroke="#c04000" stroke-width="1.35"/><path d="M645.3 506.0h1.3M656.4 506.0h1.3M651.5 499.8v1.3M651.5 510.9v1.3" stroke="#c04000" stroke-width="1.1" fill="none"/>
<circle cx="688.5" cy="495.0" r="4.85" fill="none" stroke="#c04000" stroke-width="1.35"/><path d="M682.3 495.0h1.3M693.4 495.0h1.3M688.5 488.8v1.3M688.5 499.9v1.3" stroke="#c04000" stroke-width="1.1" fill="none"/>
<circle cx="692.5" cy="506.5" r="4.85" fill="none" stroke="#c04000" stroke-width="1.35"/><path d="M686.3 506.5h1.3M697.4 506.5h1.3M692.5 500.3v1.3M692.5 511.4v1.3" stroke="#c04000" stroke-width="1.1" fill="none"/>
<circle cx="725.0" cy="506.0" r="4.85" fill="none" stroke="#c04000" stroke-width="1.35"/><path d="M718.8 506.0h1.3M729.9 506.0h1.3M725.0 499.8v1.3M725.0 510.9v1.3" stroke="#c04000" stroke-width="1.1" fill="none"/>
<circle cx="730.0" cy="506.5" r="4.85" fill="none" stroke="#c04000" stroke-width="1.35"/><path d="M723.8 506.5h1.3M734.9 506.5h1.3M730.0 500.3v1.3M730.0 511.4v1.3" stroke="#c04000" stroke-width="1.1" fill="none"/>
<circle cx="766.5" cy="481.5" r="4.85" fill="none" stroke="#c04000" stroke-width="1.35"/><path d="M760.3 481.5h1.3M771.4 481.5h1.3M766.5 475.3v1.3M766.5 486.4v1.3" stroke="#c04000" stroke-width="1.1" fill="none"/>
<circle cx="762.5" cy="506.0" r="4.85" fill="none" stroke="#c04000" stroke-width="1.35"/><path d="M756.3 506.0h1.3M767.4 506.0h1.3M762.5 499.8v1.3M762.5 510.9v1.3" stroke="#c04000" stroke-width="1.1" fill="none"/>
<circle cx="799.5" cy="494.0" r="4.85" fill="none" stroke="#c04000" stroke-width="1.35"/><path d="M793.3 494.0h1.3M804.4 494.0h1.3M799.5 487.8v1.3M799.5 498.9v1.3" stroke="#c04000" stroke-width="1.1" fill="none"/>
<circle cx="803.5" cy="507.0" r="4.85" fill="none" stroke="#c04000" stroke-width="1.35"/><path d="M797.3 507.0h1.3M808.4 507.0h1.3M803.5 500.8v1.3M803.5 511.9v1.3" stroke="#c04000" stroke-width="1.1" fill="none"/>
<circle cx="840.5" cy="481.5" r="4.85" fill="none" stroke="#c04000" stroke-width="1.35"/><path d="M834.3 481.5h1.3M845.4 481.5h1.3M840.5 475.3v1.3M840.5 486.4v1.3" stroke="#c04000" stroke-width="1.1" fill="none"/>
<circle cx="835.5" cy="506.0" r="4.85" fill="none" stroke="#c04000" stroke-width="1.35"/><path d="M829.3 506.0h1.3M840.4 506.0h1.3M835.5 499.8v1.3M835.5 510.9v1.3" stroke="#c04000" stroke-width="1.1" fill="none"/>
<circle cx="872.5" cy="496.5" r="4.85" fill="none" stroke="#c04000" stroke-width="1.35"/><path d="M866.3 496.5h1.3M877.4 496.5h1.3M872.5 490.3v1.3M872.5 501.4v1.3" stroke="#c04000" stroke-width="1.1" fill="none"/>
<circle cx="877.5" cy="504.5" r="4.85" fill="none" stroke="#c04000" stroke-width="1.35"/><path d="M871.3 504.5h1.3M882.4 504.5h1.3M877.5 498.3v1.3M877.5 509.4v1.3" stroke="#c04000" stroke-width="1.1" fill="none"/>
<circle cx="913.5" cy="496.0" r="4.85" fill="none" stroke="#c04000" stroke-width="1.35"/><path d="M907.3 496.0h1.3M918.4 496.0h1.3M913.5 489.8v1.3M913.5 500.9v1.3" stroke="#c04000" stroke-width="1.1" fill="none"/>
<circle cx="909.5" cy="506.0" r="4.85" fill="none" stroke="#c04000" stroke-width="1.35"/><path d="M903.3 506.0h1.3M914.4 506.0h1.3M909.5 499.8v1.3M909.5 510.9v1.3" stroke="#c04000" stroke-width="1.1" fill="none"/>
<circle cx="946.5" cy="481.0" r="4.85" fill="none" stroke="#c04000" stroke-width="1.35"/><path d="M940.3 481.0h1.3M951.4 481.0h1.3M946.5 474.8v1.3M946.5 485.9v1.3" stroke="#c04000" stroke-width="1.1" fill="none"/>
<circle cx="950.5" cy="490.5" r="4.85" fill="none" stroke="#c04000" stroke-width="1.35"/><path d="M944.3 490.5h1.3M955.4 490.5h1.3M950.5 484.3v1.3M950.5 495.4v1.3" stroke="#c04000" stroke-width="1.1" fill="none"/>
<circle cx="983.5" cy="482.0" r="4.85" fill="none" stroke="#c04000" stroke-width="1.35"/><path d="M977.3 482.0h1.3M988.4 482.0h1.3M983.5 475.8v1.3M983.5 486.9v1.3" stroke="#c04000" stroke-width="1.1" fill="none"/>
<circle cx="936.5" cy="187.5" r="4.85" fill="none" stroke="#c04000" stroke-width="1.35"/><path d="M930.3 187.5h1.3M941.4 187.5h1.3M936.5 181.3v1.3M936.5 192.4v1.3" stroke="#c04000" stroke-width="1.1" fill="none"/>
<circle cx="102.0" cy="519.5" r="5.5" fill="#c8c800"/><path d="M102.0 513.2v12.6" stroke="#c8c800" stroke-width="1.6"/>
<circle cx="135.5" cy="519.5" r="5.5" fill="#c8c800"/><path d="M135.5 513.2v12.6" stroke="#c8c800" stroke-width="1.6"/>
<circle cx="176.5" cy="519.5" r="5.5" fill="#c8c800"/><path d="M176.5 513.2v12.6" stroke="#c8c800" stroke-width="1.6"/>
<circle cx="209.5" cy="515" r="5.5" fill="#c8c800"/><path d="M209.5 508.7v12.6" stroke="#c8c800" stroke-width="1.6"/>
<circle cx="214.0" cy="519.5" r="5.5" fill="#c8c800"/><path d="M214.0 513.2v12.6" stroke="#c8c800" stroke-width="1.6"/>
<circle cx="245.0" cy="513.5" r="5.5" fill="#c8c800"/><path d="M245.0 507.2v12.6" stroke="#c8c800" stroke-width="1.6"/>
<circle cx="250.5" cy="519.5" r="5.5" fill="#c8c800"/><path d="M250.5 513.2v12.6" stroke="#c8c800" stroke-width="1.6"/>
<circle cx="282.5" cy="519.5" r="5.5" fill="#c8c800"/><path d="M282.5 513.2v12.6" stroke="#c8c800" stroke-width="1.6"/>
<circle cx="287.5" cy="519.5" r="5.5" fill="#c8c800"/><path d="M287.5 513.2v12.6" stroke="#c8c800" stroke-width="1.6"/>
<circle cx="319.5" cy="505" r="5.5" fill="#c8c800"/><path d="M319.5 498.7v12.6" stroke="#c8c800" stroke-width="1.6"/>
<circle cx="323.0" cy="519.5" r="5.5" fill="#c8c800"/><path d="M323.0 513.2v12.6" stroke="#c8c800" stroke-width="1.6"/>
<circle cx="356.0" cy="519.5" r="5.5" fill="#c8c800"/><path d="M356.0 513.2v12.6" stroke="#c8c800" stroke-width="1.6"/>
<circle cx="361.0" cy="519.5" r="5.5" fill="#c8c800"/><path d="M361.0 513.2v12.6" stroke="#c8c800" stroke-width="1.6"/>
<circle cx="393.5" cy="519.5" r="5.5" fill="#c8c800"/><path d="M393.5 513.2v12.6" stroke="#c8c800" stroke-width="1.6"/>
<circle cx="397.5" cy="519.5" r="5.5" fill="#c8c800"/><path d="M397.5 513.2v12.6" stroke="#c8c800" stroke-width="1.6"/>
<circle cx="430.0" cy="519.5" r="5.5" fill="#c8c800"/><path d="M430.0 513.2v12.6" stroke="#c8c800" stroke-width="1.6"/>
<circle cx="434.5" cy="519.5" r="5.5" fill="#c8c800"/><path d="M434.5 513.2v12.6" stroke="#c8c800" stroke-width="1.6"/>
<circle cx="467.5" cy="519.5" r="5.5" fill="#c8c800"/><path d="M467.5 513.2v12.6" stroke="#c8c800" stroke-width="1.6"/>
<circle cx="471.0" cy="519.5" r="5.5" fill="#c8c800"/><path d="M471.0 513.2v12.6" stroke="#c8c800" stroke-width="1.6"/>
<circle cx="504.5" cy="519.5" r="5.5" fill="#c8c800"/><path d="M504.5 513.2v12.6" stroke="#c8c800" stroke-width="1.6"/>
<circle cx="508.5" cy="519.5" r="5.5" fill="#c8c800"/><path d="M508.5 513.2v12.6" stroke="#c8c800" stroke-width="1.6"/>
<circle cx="545.5" cy="519.5" r="5.5" fill="#c8c800"/><path d="M545.5 513.2v12.6" stroke="#c8c800" stroke-width="1.6"/>
<circle cx="582.5" cy="519.5" r="5.5" fill="#c8c800"/><path d="M582.5 513.2v12.6" stroke="#c8c800" stroke-width="1.6"/>
<circle cx="578.0" cy="519.5" r="5.5" fill="#c8c800"/><path d="M578.0 513.2v12.6" stroke="#c8c800" stroke-width="1.6"/>
<circle cx="618.5" cy="519.5" r="5.5" fill="#c8c800"/><path d="M618.5 513.2v12.6" stroke="#c8c800" stroke-width="1.6"/>
<circle cx="614.5" cy="513.5" r="5.5" fill="#c8c800"/><path d="M614.5 507.2v12.6" stroke="#c8c800" stroke-width="1.6"/>
<circle cx="655.5" cy="519.5" r="5.5" fill="#c8c800"/><path d="M655.5 513.2v12.6" stroke="#c8c800" stroke-width="1.6"/>
<circle cx="651.5" cy="519.5" r="5.5" fill="#c8c800"/><path d="M651.5 513.2v12.6" stroke="#c8c800" stroke-width="1.6"/>
<circle cx="688.5" cy="513.5" r="5.5" fill="#c8c800"/><path d="M688.5 507.2v12.6" stroke="#c8c800" stroke-width="1.6"/>
<circle cx="692.5" cy="519.5" r="5.5" fill="#c8c800"/><path d="M692.5 513.2v12.6" stroke="#c8c800" stroke-width="1.6"/>
<circle cx="725.0" cy="519.5" r="5.5" fill="#c8c800"/><path d="M725.0 513.2v12.6" stroke="#c8c800" stroke-width="1.6"/>
<circle cx="730.0" cy="519.5" r="5.5" fill="#c8c800"/><path d="M730.0 513.2v12.6" stroke="#c8c800" stroke-width="1.6"/>
<circle cx="766.5" cy="519.5" r="5.5" fill="#c8c800"/><path d="M766.5 513.2v12.6" stroke="#c8c800" stroke-width="1.6"/>
<circle cx="762.5" cy="519.5" r="5.5" fill="#c8c800"/><path d="M762.5 513.2v12.6" stroke="#c8c800" stroke-width="1.6"/>
<circle cx="799.5" cy="519.5" r="5.5" fill="#c8c800"/><path d="M799.5 513.2v12.6" stroke="#c8c800" stroke-width="1.6"/>
<circle cx="803.5" cy="519.5" r="5.5" fill="#c8c800"/><path d="M803.5 513.2v12.6" stroke="#c8c800" stroke-width="1.6"/>
<circle cx="840.5" cy="519.5" r="5.5" fill="#c8c800"/><path d="M840.5 513.2v12.6" stroke="#c8c800" stroke-width="1.6"/>
<circle cx="835.5" cy="519.5" r="5.5" fill="#c8c800"/><path d="M835.5 513.2v12.6" stroke="#c8c800" stroke-width="1.6"/>
<circle cx="872.5" cy="519.5" r="5.5" fill="#c8c800"/><path d="M872.5 513.2v12.6" stroke="#c8c800" stroke-width="1.6"/>
<circle cx="877.5" cy="519.5" r="5.5" fill="#c8c800"/><path d="M877.5 513.2v12.6" stroke="#c8c800" stroke-width="1.6"/>
<circle cx="913.5" cy="519.5" r="5.5" fill="#c8c800"/><path d="M913.5 513.2v12.6" stroke="#c8c800" stroke-width="1.6"/>
<circle cx="909.5" cy="519.5" r="5.5" fill="#c8c800"/><path d="M909.5 513.2v12.6" stroke="#c8c800" stroke-width="1.6"/>
<circle cx="946.5" cy="519.5" r="5.5" fill="#c8c800"/><path d="M946.5 513.2v12.6" stroke="#c8c800" stroke-width="1.6"/>
<circle cx="950.5" cy="519.5" r="5.5" fill="#c8c800"/><path d="M950.5 513.2v12.6" stroke="#c8c800" stroke-width="1.6"/>
<circle cx="983.5" cy="519.5" r="5.5" fill="#c8c800"/><path d="M983.5 513.2v12.6" stroke="#c8c800" stroke-width="1.6"/>
<circle cx="936.5" cy="206.5" r="5.5" fill="#c8c800"/><path d="M936.5 200.2v12.6" stroke="#c8c800" stroke-width="1.6"/>
<path d="M175.5 442.5L183.8 454.5L167.2 454.5Z" fill="none" stroke="#4169e1" stroke-width="1"/>
<path d="M730.5 442.5L738.8 454.5L722.2 454.5Z" fill="none" stroke="#4169e1" stroke-width="1"/>
<path d="M936.5 217.5L944.8 229.5L928.2 229.5Z" fill="none" stroke="#4169e1" stroke-width="1"/>
<path d="M169.0 411.5h13M175.5 405.0v13" fill="none" stroke="#ffc020" stroke-width="1" shape-rendering="crispEdges"/>
<path d="M930.0 244.5h13M936.5 238.0v13" fill="none" stroke="#ffc020" stroke-width="1" shape-rendering="crispEdges"/>
<rect x="101.5" y="77.5" width="885.0" height="442.0" fill="none" stroke="#000" stroke-width="1" shape-rendering="crispEdges"/>
</svg></body></html>
